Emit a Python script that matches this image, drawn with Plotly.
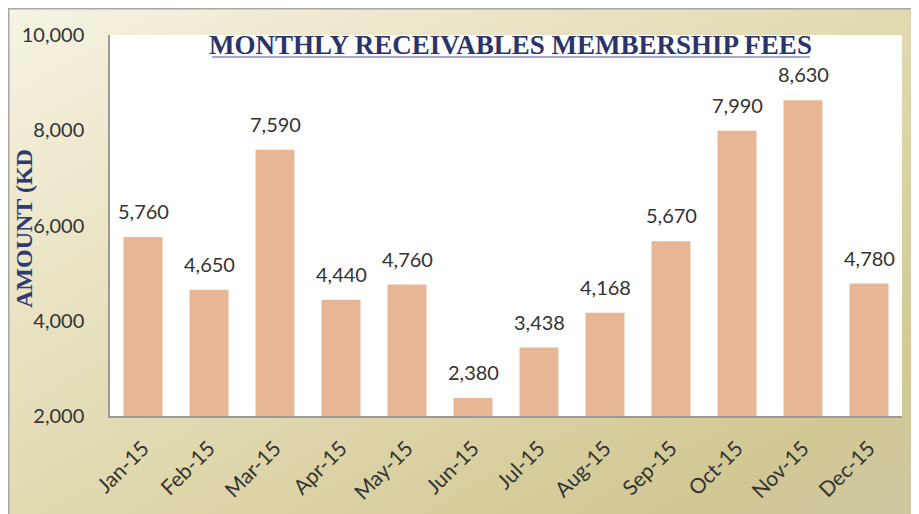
import plotly.graph_objects as go
import urllib.parse

months = ["Jan-15", "Feb-15", "Mar-15", "Apr-15", "May-15", "Jun-15",
          "Jul-15", "Aug-15", "Sep-15", "Oct-15", "Nov-15", "Dec-15"]
fees = [5760, 4650, 7590, 4440, 4760, 2380, 3438, 4168, 5670, 7990, 8630, 4780]
fee_labels = ["5,760", "4,650", "7,590", "4,440", "4,760", "2,380",
              "3,438", "4,168", "5,670", "7,990", "8,630", "4,780"]
y_ticks = [2000, 4000, 6000, 8000, 10000]
y_tick_labels = ["2,000", "4,000", "6,000", "8,000", "10,000"]

W, H = 919, 514
OFF = 8  # page offset of the figure (body margin)
# plot area in page pixels: x 110-902, y 35-416
L, T = 110 - OFF, 35 - OFF
R = W - (902 - OFF)
B = H - (416 - OFF)
pw, ph = W - L - R, H - T - B

def px(x):  # page pixel -> paper x
    return (x - OFF - L) / pw

def py(y):  # page pixel -> paper y
    return (H - B - (y - OFF)) / ph

svg = ('<svg xmlns="http://www.w3.org/2000/svg" width="100" height="100" preserveAspectRatio="none">'
       '<defs><linearGradient id="g" x1="0" y1="0" x2="1" y2="1">'
       '<stop offset="0" stop-color="#F6F3E2"/>'
       '<stop offset="0.5" stop-color="#E1D9B0"/>'
       '<stop offset="0.85" stop-color="#D1C894"/>'
       '<stop offset="1" stop-color="#CEC7A4"/>'
       '</linearGradient></defs>'
       '<rect width="100" height="100" fill="url(#g)"/></svg>')
svg_uri = "data:image/svg+xml;charset=utf-8," + urllib.parse.quote(svg)

fig = go.Figure()
fig.add_trace(go.Bar(
    x=months, y=fees, width=0.59,
    marker=dict(color="#E7B694", line=dict(width=0)),
    hoverinfo="skip",
))

annotations = []
for m, v, t in zip(months, fees, fee_labels):
    annotations.append(dict(x=m, y=v, text=t, showarrow=False, yanchor="bottom",
                            yshift=12, font=dict(family="Lato", size=20, color="#333333")))

annotations.append(dict(xref="paper", yref="paper", x=px(511), y=py(45),
                        text="MONTHLY RECEIVABLES MEMBERSHIP FEES", showarrow=False,
                        xanchor="center", yanchor="middle",
                        font=dict(family="Liberation Serif", size=27, color="#2B3468", weight="bold")))
annotations.append(dict(xref="paper", yref="paper", x=px(24), y=py(229),
                        text="AMOUNT (KD", showarrow=False, textangle=-90,
                        xanchor="center", yanchor="middle",
                        font=dict(family="Liberation Serif", size=24, color="#2E3A72", weight="bold")))

fig.update_layout(
    width=W, height=H,
    margin=dict(l=L, r=R, t=T, b=B, pad=0),
    paper_bgcolor="white",
    plot_bgcolor="rgba(0,0,0,0)",
    showlegend=False,
    bargap=0.41,
    images=[dict(source=svg_uri, xref="paper", yref="paper",
                 x=-L / pw, y=1 + T / ph, sizex=W / pw, sizey=H / ph,
                 xanchor="left", yanchor="top", sizing="stretch", layer="below")],
    shapes=[
        dict(type="rect", xref="paper", yref="paper", x0=0, x1=1, y0=0, y1=1,
             fillcolor="white", line=dict(width=0), layer="below"),
        dict(type="line", xref="paper", yref="paper", x0=-L / pw, x1=1 + R / pw,
             y0=1 + (T - 0.5) / ph, y1=1 + (T - 0.5) / ph,
             line=dict(color="#A8A8A8", width=2), layer="above"),
        dict(type="line", xref="paper", yref="paper", x0=-(L - 0.5) / pw, x1=-(L - 0.5) / pw,
             y0=-B / ph, y1=1 + T / ph,
             line=dict(color="#A8A8A8", width=2), layer="above"),
        dict(type="line", xref="paper", yref="paper", x0=px(212), x1=px(810), y0=py(57), y1=py(57),
             line=dict(color="#A3ABCB", width=2), layer="above"),
    ],
    annotations=annotations,
    xaxis=dict(
        tickangle=-45, tickfont=dict(family="Lato", size=21, color="#333333"),
        showline=True, linecolor="#9A9A9A", linewidth=1.5,
        ticks="", ticklabelstandoff=10, showgrid=False, fixedrange=True,
    ),
    yaxis=dict(
        range=[2000, 10000], tickvals=y_ticks, ticktext=y_tick_labels,
        tickfont=dict(family="Lato", size=20, color="#333333"),
        showline=True, linecolor="#9A9A9A", linewidth=1.5,
        ticks="", ticklabelstandoff=20, showgrid=False, zeroline=False, fixedrange=True,
    ),
)

fig.write_html("out.html")
